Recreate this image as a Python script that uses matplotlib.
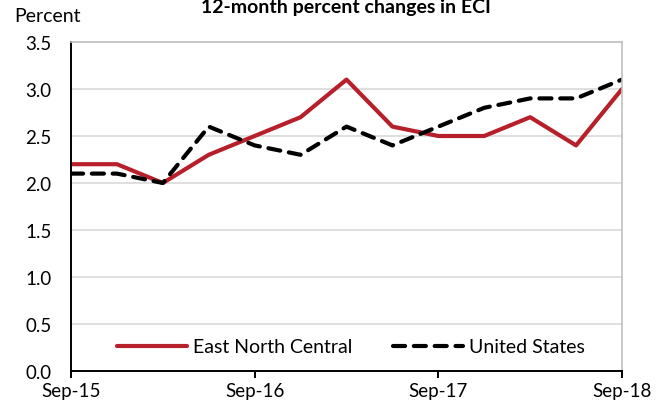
import matplotlib.pyplot as plt

# Quarterly 12-month percent changes, Sep-15 through Sep-18
quarters = ['Sep-15', 'Dec-15', 'Mar-16', 'Jun-16', 'Sep-16', 'Dec-16', 'Mar-17',
            'Jun-17', 'Sep-17', 'Dec-17', 'Mar-18', 'Jun-18', 'Sep-18']
east_north_central = [2.2, 2.2, 2.0, 2.3, 2.5, 2.7, 3.1, 2.6, 2.5, 2.5, 2.7, 2.4, 3.0]
united_states = [2.1, 2.1, 2.0, 2.6, 2.4, 2.3, 2.6, 2.4, 2.6, 2.8, 2.9, 2.9, 3.1]
y_ticks = [0.0, 0.5, 1.0, 1.5, 2.0, 2.5, 3.0, 3.5]

plt.rcParams['font.family'] = ['Lato', 'DejaVu Sans']

W, H = 666, 402
fig = plt.figure(figsize=(W / 100, H / 100), dpi=100)
ax = fig.add_axes([71 / W, 1 - 372 / H, 551 / W, 329 / H])

x = list(range(len(quarters)))
ax.plot(x, east_north_central, color='#B7202B', linewidth=3.0,
        solid_capstyle='round', label='East North Central')
ax.plot(x, united_states, color='black', linewidth=3.0,
        dashes=(2.9, 2.1), dash_capstyle='round', label='United States')

ax.set_xlim(0, 12)
ax.set_ylim(0, 3.5)
ax.set_yticks(y_ticks)
ax.set_yticklabels([f'{v:.1f}' for v in y_ticks])
ax.set_xticks([0, 4, 8, 12])
ax.set_xticklabels([quarters[i] for i in [0, 4, 8, 12]])

ax.grid(axis='y', color='#D9D9D9', linewidth=1.2)
ax.set_axisbelow(True)
for side in ['top', 'right']:
    ax.spines[side].set_color('#C0C0C0')
    ax.spines[side].set_linewidth(1.2)
for side in ['left', 'bottom']:
    ax.spines[side].set_color('black')
    ax.spines[side].set_linewidth(1.4)
ax.tick_params(axis='y', length=0, labelsize=13.5, pad=14)
ax.tick_params(axis='x', direction='out', length=5, width=1.4, labelsize=13.5, pad=3)

ax.legend(loc='center left', bbox_to_anchor=((117 - 71) / 551, 24 / 329), ncol=2,
          frameon=False, fontsize=14, handlelength=3.6, handletextpad=0.3,
          columnspacing=2.1, borderaxespad=0, borderpad=0)

fig.text(48 / W, 1 - 17 / H, 'Percent', fontsize=14, ha='center', va='center')
fig.text(346 / W, 1 - 13 / H, '12-month percent changes in ECI', fontsize=14,
         fontweight='bold', ha='center', va='baseline')

fig.savefig('out.png', dpi=100)
